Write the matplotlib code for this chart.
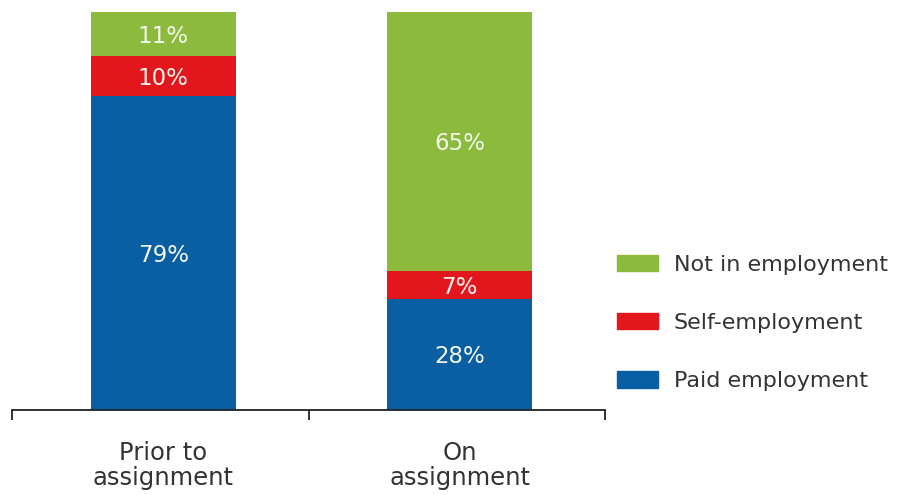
import matplotlib.pyplot as plt
from matplotlib.patches import Patch

categories = ["Prior to\nassignment", "On\nassignment"]
paid = [79, 28]
self_emp = [10, 7]
not_emp = [11, 65]

series = [
    ("Paid employment", paid, "#0a5fa3"),
    ("Self-employment", self_emp, "#e3161d"),
    ("Not in employment", not_emp, "#8cba3c"),
]

plt.rcParams["font.family"] = ["DejaVu Sans"]

fig = plt.figure(figsize=(9.04, 4.95), dpi=100)
ax = fig.add_axes([12 / 904, 85 / 495, 593 / 904, 398 / 495])

x = range(len(categories))
bottom = [0] * len(categories)
for name, vals, color in series:
    bars = ax.bar(x, vals, width=0.49, bottom=bottom, color=color, label=name)
    for rect, v, b in zip(bars, vals, bottom):
        ax.text(rect.get_x() + rect.get_width() / 2, b + v / 2, f"{v}%",
                ha="center", va="center_baseline", color="#f2f6ec", fontsize=16.5)
    bottom = [b + v for b, v in zip(bottom, vals)]

ax.set_xlim(-0.51, 1.49)
ax.set_ylim(0, 100)
for side in ("top", "right", "left"):
    ax.spines[side].set_visible(False)
ax.spines["bottom"].set_color("#222222")
ax.spines["bottom"].set_linewidth(1.3)
ax.set_yticks([])

ax.set_xticks(list(x))
ax.set_xticklabels(categories, fontsize=17.5, color="#333333", linespacing=1.08)
ax.tick_params(axis="x", which="major", length=0, pad=22)
ax.set_xticks([-0.51, 0.49, 1.49], minor=True)
ax.tick_params(axis="x", which="minor", length=7, width=1.3, color="#222222")

handles = [Patch(color=c, label=n) for n, _, c in reversed(series)]
fig.legend(handles=handles, loc="center left", bbox_to_anchor=(597 / 904, 1 - 323 / 495),
           frameon=False, fontsize=16, handlelength=1.85, handleheight=0.75,
           labelspacing=1.72, handletextpad=0.7, labelcolor="#333333")

fig.savefig("out.png", dpi=100)
